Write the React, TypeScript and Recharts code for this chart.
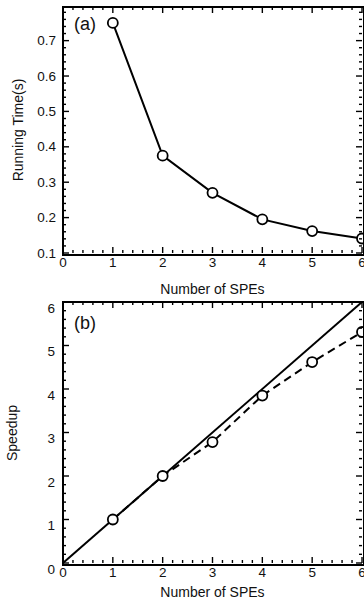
import React from 'react'
import { LineChart, Line, XAxis, YAxis } from 'recharts'

const SPE_COUNT = [1, 2, 3, 4, 5, 6]
const RUNNING_TIME = [0.75, 0.375, 0.27, 0.195, 0.162, 0.141]
const SPEEDUP = [1.0, 2.0, 2.78, 3.85, 4.62, 5.31]
const IDEAL_SPE = [0, 6]
const IDEAL_SPEEDUP = [0, 6]

const SPE_LABELS = [0, 1, 2, 3, 4, 5, 6]
const TIME_LABELS = [0.1, 0.2, 0.3, 0.4, 0.5, 0.6, 0.7]
const SPEEDUP_LABELS = [0, 1, 2, 3, 4, 5, 6]

const FONT = '"Liberation Sans", Arial, Helvetica, sans-serif'

const timeData = SPE_COUNT.map((n, i) => ({ n, t: RUNNING_TIME[i] }))
const speedData = SPE_COUNT.map((n, i) => ({ n, s: SPEEDUP[i] }))
const idealData = IDEAL_SPE.map((n, i) => ({ n, ideal: IDEAL_SPEEDUP[i] }))

// minor + major tick positions for the inward tick marks
const tickRange = (min: number, max: number, step: number) => {
  const out: number[] = []
  for (let v = min; v <= max + 1e-9; v += step) out.push(Math.round(v * 1000) / 1000)
  return out
}

const X_TICKS = tickRange(0, 6, 0.2)
const TIME_TICKS = tickRange(0.1, 0.79, 0.02)
const SPEED_TICKS = tickRange(0, 6, 0.2)

const isIn = (list: number[], v: number) => list.some((m) => Math.abs(m - v) < 1e-6)

// one chart holds both panels; each panel has its own y axis, stretched so
// its range lands in its own band of the shared plot area
const PLOT_LEFT = 63
const PLOT_RIGHT = 362
const PLOT_TOP = 7
const PLOT_BOTTOM = 563
const PLOT_H = PLOT_BOTTOM - PLOT_TOP

const A_TOP = 7
const A_BOTTOM = 253
const A_MAX = 0.795
const A_MIN_SHOWN = 0.1
const A_MIN = A_MAX - ((A_MAX - A_MIN_SHOWN) * PLOT_H) / (A_BOTTOM - A_TOP)

const B_TOP = 302
const B_MAX_SHOWN = 6
const B_MAX = B_MAX_SHOWN / (1 - (B_TOP - PLOT_TOP) / PLOT_H)

const TICK_W = 1.4

// x ticks: marks on all four horizontal edges, labels under both panels
function XTick(props: any) {
  const x = Number(props.x)
  const y = Number(props.y)
  const v = Number(props.payload?.value)
  const isMajor = isIn(SPE_LABELS, v)
  const len = isMajor ? 6 : 3
  return (
    <g>
      <line x1={x} x2={x} y1={PLOT_BOTTOM} y2={PLOT_BOTTOM - len} stroke="#000" strokeWidth={TICK_W} />
      <line x1={x} x2={x} y1={B_TOP} y2={B_TOP + len} stroke="#000" strokeWidth={TICK_W} />
      <line x1={x} x2={x} y1={A_BOTTOM} y2={A_BOTTOM - len} stroke="#000" strokeWidth={TICK_W} />
      <line x1={x} x2={x} y1={A_TOP} y2={A_TOP + len} stroke="#000" strokeWidth={TICK_W} />
      {isMajor && (
        <text x={x} y={y} textAnchor="middle" dominantBaseline="central" fontSize={13.5} fill="#111">
          {String(v)}
        </text>
      )}
    </g>
  )
}

// y ticks of panel (a), on the left axis
function TimeTick(props: any) {
  const y = Number(props.y)
  const v = Number(props.payload?.value)
  const isMajor = isIn(TIME_LABELS, v)
  const len = isMajor ? 6 : 3
  return (
    <g>
      <line x1={PLOT_LEFT} x2={PLOT_LEFT + len} y1={y} y2={y} stroke="#000" strokeWidth={TICK_W} />
      <line x1={PLOT_RIGHT} x2={PLOT_RIGHT - len} y1={y} y2={y} stroke="#000" strokeWidth={TICK_W} />
      {isMajor && (
        <text x={PLOT_LEFT - 7} y={y} textAnchor="end" dominantBaseline="central" fontSize={13.5} fill="#111">
          {v.toFixed(1)}
        </text>
      )}
    </g>
  )
}

// y ticks of panel (b); its axis sits on the right but the labels go left, as in the figure
function SpeedTick(props: any) {
  const y = Number(props.y)
  const v = Number(props.payload?.value)
  const isMajor = isIn(SPEEDUP_LABELS, v)
  const len = isMajor ? 6 : 3
  return (
    <g>
      <line x1={PLOT_LEFT} x2={PLOT_LEFT + len} y1={y} y2={y} stroke="#000" strokeWidth={TICK_W} />
      <line x1={PLOT_RIGHT} x2={PLOT_RIGHT - len} y1={y} y2={y} stroke="#000" strokeWidth={TICK_W} />
      {isMajor && (
        <text x={PLOT_LEFT - 8} y={y + 6} textAnchor="end" dominantBaseline="central" fontSize={13.5} fill="#111">
          {String(v)}
        </text>
      )}
    </g>
  )
}

const dot = { r: 5, stroke: '#000', strokeWidth: 1.8, fill: '#fff', strokeDasharray: 'none' }

const Frame = ({ top, bottom }: { top: number; bottom: number }) => (
  <div
    style={{
      position: 'absolute',
      left: PLOT_LEFT - 1,
      top: top - 1,
      width: PLOT_RIGHT - PLOT_LEFT,
      height: bottom - top,
      border: '2px solid #000',
      pointerEvents: 'none',
    }}
  />
)

const XTitle = ({ top }: { top: number }) => (
  <div
    style={{
      position: 'absolute',
      left: PLOT_LEFT,
      top,
      width: PLOT_RIGHT - PLOT_LEFT,
      textAlign: 'center',
      fontSize: 14,
      lineHeight: '16px',
      color: '#111',
    }}
  >
    Number of SPEs
  </div>
)

const YTitle = ({ cx, cy, text }: { cx: number; cy: number; text: string }) => (
  <div
    style={{
      position: 'absolute',
      left: cx - 100,
      top: cy - 8,
      width: 200,
      height: 16,
      textAlign: 'center',
      fontSize: 14,
      lineHeight: '16px',
      color: '#111',
      transform: 'rotate(-90deg)',
    }}
  >
    {text}
  </div>
)

export default function App() {
  return (
    <div style={{ position: 'absolute', left: 0, top: 0, width: 364, height: 603, fontFamily: FONT }}>
      <LineChart width={364} height={603} margin={{ top: PLOT_TOP, right: 0, bottom: 20, left: 8 }}>
        <XAxis
          dataKey="n"
          type="number"
          domain={[0, 6]}
          ticks={X_TICKS}
          interval={0}
          tickSize={0}
          tickMargin={9}
          tickLine={false}
          axisLine={false}
          height={20}
          tick={XTick}
        />
        <YAxis
          yAxisId="a"
          type="number"
          domain={[A_MIN, A_MAX]}
          ticks={TIME_TICKS}
          interval={0}
          tickSize={0}
          tickMargin={7}
          tickLine={false}
          axisLine={false}
          width={55}
          tick={TimeTick}
        />
        <YAxis
          yAxisId="b"
          orientation="right"
          type="number"
          domain={[0, B_MAX]}
          ticks={SPEED_TICKS}
          interval={0}
          tickSize={0}
          tickMargin={0}
          tickLine={false}
          axisLine={false}
          width={2}
          tick={SpeedTick}
        />
        <Line
          yAxisId="a"
          data={timeData}
          dataKey="t"
          type="linear"
          stroke="#000"
          strokeWidth={2}
          dot={dot}
          isAnimationActive={false}
        />
        <Line
          yAxisId="b"
          data={idealData}
          dataKey="ideal"
          type="linear"
          stroke="#000"
          strokeWidth={2}
          dot={false}
          isAnimationActive={false}
        />
        <Line
          yAxisId="b"
          data={speedData}
          dataKey="s"
          type="linear"
          stroke="#000"
          strokeWidth={2}
          strokeDasharray="8 5"
          dot={dot}
          isAnimationActive={false}
        />
      </LineChart>

      {/* panel (a) x labels, same x positions as the shared axis */}
      <Frame top={A_TOP} bottom={A_BOTTOM} />
      <Frame top={B_TOP} bottom={PLOT_BOTTOM} />
      {SPE_LABELS.map((v) => (
        <span
          key={v}
          style={{
            position: 'absolute',
            left: PLOT_LEFT + ((PLOT_RIGHT - PLOT_LEFT) * v) / 6 - 10,
            top: A_BOTTOM + 2,
            width: 20,
            textAlign: 'center',
            fontSize: 13.5,
            lineHeight: '16px',
            color: '#111',
          }}
        >
          {v}
        </span>
      ))}
      <span style={{ position: 'absolute', left: 74, top: 15, fontSize: 18, lineHeight: 1, color: '#111' }}>(a)</span>
      <span style={{ position: 'absolute', left: 74, top: 314, fontSize: 18, lineHeight: 1, color: '#111' }}>(b)</span>
      <XTitle top={281} />
      <XTitle top={584} />
      <YTitle cx={18} cy={130} text="Running Time(s)" />
      <YTitle cx={12} cy={433} text="Speedup" />
    </div>
  )
}
